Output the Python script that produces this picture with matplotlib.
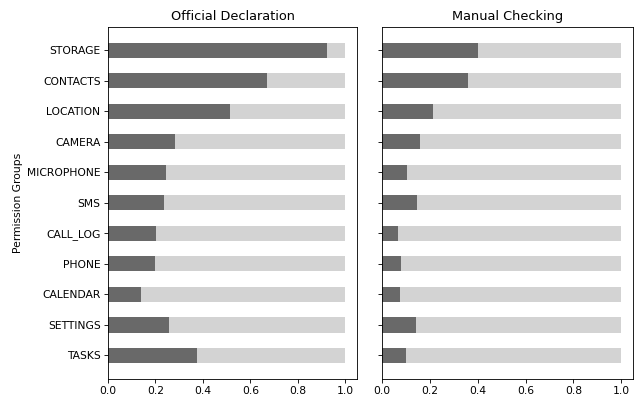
import numpy as np
import matplotlib
matplotlib.use("Agg")
import matplotlib.pyplot as plt

# permission groups, top to bottom as shown
groups = ["STORAGE", "CONTACTS", "LOCATION", "CAMERA", "MICROPHONE", "SMS",
          "CALL_LOG", "PHONE", "CALENDAR", "SETTINGS", "TASKS"]

# share of apps per group
official = [0.921, 0.672, 0.516, 0.283, 0.243, 0.236, 0.201, 0.200, 0.141, 0.256, 0.377]
manual = [0.399, 0.357, 0.213, 0.158, 0.102, 0.146, 0.067, 0.078, 0.074, 0.142, 0.100]

titles = ["Official Declaration", "Manual Checking"]

DARK = "#696969"
LIGHT = "#d3d3d3"


def draw_panel(ax, values, title):
    # pandas-style ordering: first row at bottom, so reverse
    y = np.arange(len(groups))
    vals = np.array(values[::-1])
    ax.barh(y, vals, height=0.5, color=DARK)
    ax.barh(y, 1 - vals, left=vals, height=0.5, color=LIGHT)
    ax.set_yticks(y)
    ax.set_xlim(0, 1.05)
    ax.set_ylim(-0.77, len(groups) - 1 + 0.77)
    ax.set_xticks([0.0, 0.2, 0.4, 0.6, 0.8, 1.0])
    ax.set_title(title, fontsize=12)


fig = plt.figure(figsize=(639 / 77, 398 / 77), dpi=77)
ax1 = fig.add_axes([0.169, 0.048, 0.390, 0.885])
ax2 = fig.add_axes([0.598, 0.048, 0.393, 0.885])

draw_panel(ax1, official, titles[0])
ax1.set_yticklabels(groups[::-1])
ax1.set_ylabel("Permission Groups")

draw_panel(ax2, manual, titles[1])
ax2.set_yticklabels([])

fig.savefig("out.png", dpi=77)
